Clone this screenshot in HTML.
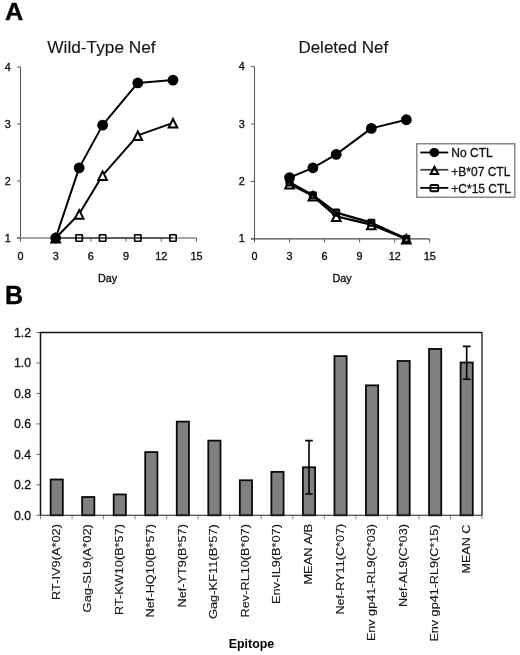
<!DOCTYPE html>
<html><head><meta charset="utf-8"><title>Figure</title>
<style>html,body{margin:0;padding:0;background:#fff}body{width:520px;height:655px;overflow:hidden;font-family:"Liberation Sans",sans-serif}</style>
</head><body>
<svg width="520" height="655" viewBox="0 0 520 655" style="display:block;filter:blur(0.35px)">
<rect width="520" height="655" fill="#fff"/>
<text transform="translate(4.9,19.5) scale(1.045,1)" font-size="24.2" font-weight="bold" fill="#000" stroke="#000" stroke-width="0.35" font-family="Liberation Sans, sans-serif">A</text>
<text x="5.0" y="303.8" font-size="25" font-weight="bold" fill="#000" stroke="#000" stroke-width="0.35" font-family="Liberation Sans, sans-serif">B</text>
<text x="47.3" y="52.6" font-size="17.25" fill="#151515" stroke="#151515" stroke-width="0.12" font-family="Liberation Sans, sans-serif">Wild-Type Nef</text>
<text x="298.4" y="52.5" font-size="17" fill="#151515" stroke="#151515" stroke-width="0.12" font-family="Liberation Sans, sans-serif">Deleted Nef</text>
<line x1="20.5" y1="67.0" x2="20.5" y2="238.0" stroke="#5a5a5a" stroke-width="1.1"/>
<line x1="17.0" y1="238.0" x2="196.45000000000002" y2="238.0" stroke="#8a8a8a" stroke-width="1.3"/>
<line x1="17.0" y1="238.0" x2="20.5" y2="238.0" stroke="#5a5a5a" stroke-width="1"/>
<text x="7.8" y="241.9" font-size="10.8" text-anchor="middle" fill="#111" stroke="#111" stroke-width="0.35" font-family="Liberation Sans, sans-serif">1</text>
<line x1="17.0" y1="181.0" x2="20.5" y2="181.0" stroke="#5a5a5a" stroke-width="1"/>
<text x="7.8" y="184.9" font-size="10.8" text-anchor="middle" fill="#111" stroke="#111" stroke-width="0.35" font-family="Liberation Sans, sans-serif">2</text>
<line x1="17.0" y1="124.0" x2="20.5" y2="124.0" stroke="#5a5a5a" stroke-width="1"/>
<text x="7.8" y="127.9" font-size="10.8" text-anchor="middle" fill="#111" stroke="#111" stroke-width="0.35" font-family="Liberation Sans, sans-serif">3</text>
<line x1="17.0" y1="67.0" x2="20.5" y2="67.0" stroke="#5a5a5a" stroke-width="1"/>
<text x="7.8" y="70.9" font-size="10.8" text-anchor="middle" fill="#111" stroke="#111" stroke-width="0.35" font-family="Liberation Sans, sans-serif">4</text>
<line x1="20.5" y1="238.0" x2="20.5" y2="241.5" stroke="#5a5a5a" stroke-width="1"/>
<text x="20.5" y="260.0" font-size="10.8" text-anchor="middle" fill="#111" stroke="#111" stroke-width="0.35" font-family="Liberation Sans, sans-serif">0</text>
<line x1="55.69" y1="238.0" x2="55.69" y2="241.5" stroke="#5a5a5a" stroke-width="1"/>
<text x="55.69" y="260.0" font-size="10.8" text-anchor="middle" fill="#111" stroke="#111" stroke-width="0.35" font-family="Liberation Sans, sans-serif">3</text>
<line x1="90.88" y1="238.0" x2="90.88" y2="241.5" stroke="#5a5a5a" stroke-width="1"/>
<text x="90.88" y="260.0" font-size="10.8" text-anchor="middle" fill="#111" stroke="#111" stroke-width="0.35" font-family="Liberation Sans, sans-serif">6</text>
<line x1="126.07000000000001" y1="238.0" x2="126.07000000000001" y2="241.5" stroke="#5a5a5a" stroke-width="1"/>
<text x="126.07000000000001" y="260.0" font-size="10.8" text-anchor="middle" fill="#111" stroke="#111" stroke-width="0.35" font-family="Liberation Sans, sans-serif">9</text>
<line x1="161.26" y1="238.0" x2="161.26" y2="241.5" stroke="#5a5a5a" stroke-width="1"/>
<text x="161.26" y="260.0" font-size="10.8" text-anchor="middle" fill="#111" stroke="#111" stroke-width="0.35" font-family="Liberation Sans, sans-serif">12</text>
<line x1="196.45000000000002" y1="238.0" x2="196.45000000000002" y2="241.5" stroke="#5a5a5a" stroke-width="1"/>
<text x="196.45000000000002" y="260.0" font-size="10.8" text-anchor="middle" fill="#111" stroke="#111" stroke-width="0.35" font-family="Liberation Sans, sans-serif">15</text>
<polyline points="55.69,238.00 79.15,238.00 102.61,238.00 137.80,238.00 172.99,238.00" fill="none" stroke="#444" stroke-width="1.5" stroke-linejoin="round"/>
<rect x="52.49" y="234.80" width="6.4" height="6.4" rx="0.5" fill="none" stroke="#000" stroke-width="1.6"/>
<rect x="75.95" y="234.80" width="6.4" height="6.4" rx="0.5" fill="none" stroke="#000" stroke-width="1.6"/>
<rect x="99.41" y="234.80" width="6.4" height="6.4" rx="0.5" fill="none" stroke="#000" stroke-width="1.6"/>
<rect x="134.60" y="234.80" width="6.4" height="6.4" rx="0.5" fill="none" stroke="#000" stroke-width="1.6"/>
<rect x="169.79" y="234.80" width="6.4" height="6.4" rx="0.5" fill="none" stroke="#000" stroke-width="1.6"/>
<polyline points="55.69,238.00 79.15,214.06 102.61,175.30 137.80,135.40 172.99,122.86" fill="none" stroke="#000" stroke-width="2" stroke-linejoin="round"/>
<path d="M55.69 234.10 L59.99 242.60 L51.39 242.60 Z" fill="#fff" stroke="#000" stroke-width="2" stroke-linejoin="miter"/>
<path d="M79.15 210.16 L83.45 218.66 L74.85 218.66 Z" fill="#fff" stroke="#000" stroke-width="2" stroke-linejoin="miter"/>
<path d="M102.61 171.40 L106.91 179.90 L98.31 179.90 Z" fill="#fff" stroke="#000" stroke-width="2" stroke-linejoin="miter"/>
<path d="M137.80 131.50 L142.10 140.00 L133.50 140.00 Z" fill="#fff" stroke="#000" stroke-width="2" stroke-linejoin="miter"/>
<path d="M172.99 118.96 L177.29 127.46 L168.69 127.46 Z" fill="#fff" stroke="#000" stroke-width="2" stroke-linejoin="miter"/>
<polyline points="55.69,238.00 79.15,167.89 102.61,125.14 137.80,82.96 172.99,80.11" fill="none" stroke="#000" stroke-width="2" stroke-linejoin="round"/>
<circle cx="55.69" cy="238.00" r="5.4" fill="#000"/>
<circle cx="79.15" cy="167.89" r="5.4" fill="#000"/>
<circle cx="102.61" cy="125.14" r="5.4" fill="#000"/>
<circle cx="137.80" cy="82.96" r="5.4" fill="#000"/>
<circle cx="172.99" cy="80.11" r="5.4" fill="#000"/>
<text x="107.5" y="281.5" font-size="10.8" text-anchor="middle" fill="#111" stroke="#111" stroke-width="0.35" font-family="Liberation Sans, sans-serif">Day</text>
<line x1="254.5" y1="66.61000000000001" x2="254.5" y2="238.9" stroke="#5a5a5a" stroke-width="1.1"/>
<line x1="251.0" y1="238.9" x2="429.7" y2="238.9" stroke="#4a4a4a" stroke-width="1.3"/>
<line x1="251.0" y1="238.9" x2="254.5" y2="238.9" stroke="#5a5a5a" stroke-width="1"/>
<text x="241.8" y="242.4" font-size="10.8" text-anchor="middle" fill="#111" stroke="#111" stroke-width="0.35" font-family="Liberation Sans, sans-serif">1</text>
<line x1="251.0" y1="181.47" x2="254.5" y2="181.47" stroke="#5a5a5a" stroke-width="1"/>
<text x="241.8" y="184.97" font-size="10.8" text-anchor="middle" fill="#111" stroke="#111" stroke-width="0.35" font-family="Liberation Sans, sans-serif">2</text>
<line x1="251.0" y1="124.04" x2="254.5" y2="124.04" stroke="#5a5a5a" stroke-width="1"/>
<text x="241.8" y="127.54" font-size="10.8" text-anchor="middle" fill="#111" stroke="#111" stroke-width="0.35" font-family="Liberation Sans, sans-serif">3</text>
<line x1="251.0" y1="66.61000000000001" x2="254.5" y2="66.61000000000001" stroke="#5a5a5a" stroke-width="1"/>
<text x="241.8" y="70.11000000000001" font-size="10.8" text-anchor="middle" fill="#111" stroke="#111" stroke-width="0.35" font-family="Liberation Sans, sans-serif">4</text>
<line x1="254.5" y1="238.9" x2="254.5" y2="242.4" stroke="#5a5a5a" stroke-width="1"/>
<text x="254.5" y="260.0" font-size="10.8" text-anchor="middle" fill="#111" stroke="#111" stroke-width="0.35" font-family="Liberation Sans, sans-serif">0</text>
<line x1="289.54" y1="238.9" x2="289.54" y2="242.4" stroke="#5a5a5a" stroke-width="1"/>
<text x="289.54" y="260.0" font-size="10.8" text-anchor="middle" fill="#111" stroke="#111" stroke-width="0.35" font-family="Liberation Sans, sans-serif">3</text>
<line x1="324.58" y1="238.9" x2="324.58" y2="242.4" stroke="#5a5a5a" stroke-width="1"/>
<text x="324.58" y="260.0" font-size="10.8" text-anchor="middle" fill="#111" stroke="#111" stroke-width="0.35" font-family="Liberation Sans, sans-serif">6</text>
<line x1="359.62" y1="238.9" x2="359.62" y2="242.4" stroke="#5a5a5a" stroke-width="1"/>
<text x="359.62" y="260.0" font-size="10.8" text-anchor="middle" fill="#111" stroke="#111" stroke-width="0.35" font-family="Liberation Sans, sans-serif">9</text>
<line x1="394.65999999999997" y1="238.9" x2="394.65999999999997" y2="242.4" stroke="#5a5a5a" stroke-width="1"/>
<text x="394.65999999999997" y="260.0" font-size="10.8" text-anchor="middle" fill="#111" stroke="#111" stroke-width="0.35" font-family="Liberation Sans, sans-serif">12</text>
<line x1="429.7" y1="238.9" x2="429.7" y2="242.4" stroke="#5a5a5a" stroke-width="1"/>
<text x="429.7" y="260.0" font-size="10.8" text-anchor="middle" fill="#111" stroke="#111" stroke-width="0.35" font-family="Liberation Sans, sans-serif">15</text>
<polyline points="289.54,183.88 312.90,195.83 336.26,216.39 371.30,224.66 406.34,238.90" fill="none" stroke="#000" stroke-width="2.3" stroke-linejoin="round"/>
<path d="M289.54 179.98 L293.84 188.48 L285.24 188.48 Z" fill="#fff" stroke="#000" stroke-width="2" stroke-linejoin="miter"/>
<path d="M312.90 191.93 L317.20 200.43 L308.60 200.43 Z" fill="#fff" stroke="#000" stroke-width="2" stroke-linejoin="miter"/>
<path d="M336.26 212.49 L340.56 220.99 L331.96 220.99 Z" fill="#fff" stroke="#000" stroke-width="2" stroke-linejoin="miter"/>
<path d="M371.30 220.76 L375.60 229.26 L367.00 229.26 Z" fill="#fff" stroke="#000" stroke-width="2" stroke-linejoin="miter"/>
<path d="M406.34 235.00 L410.64 243.50 L402.04 243.50 Z" fill="#fff" stroke="#000" stroke-width="2" stroke-linejoin="miter"/>
<polyline points="289.54,182.33 312.90,195.20 336.26,212.60 371.30,222.70 406.34,238.90" fill="none" stroke="#000" stroke-width="2.3" stroke-linejoin="round"/>
<rect x="286.54" y="179.33" width="6.0" height="6.0" rx="0.5" fill="rgba(0,0,0,0.4)" stroke="#000" stroke-width="2.1"/>
<rect x="309.90" y="192.20" width="6.0" height="6.0" rx="0.5" fill="rgba(0,0,0,0.4)" stroke="#000" stroke-width="2.1"/>
<rect x="333.26" y="209.60" width="6.0" height="6.0" rx="0.5" fill="rgba(0,0,0,0.4)" stroke="#000" stroke-width="2.1"/>
<rect x="368.30" y="219.70" width="6.0" height="6.0" rx="0.5" fill="rgba(0,0,0,0.4)" stroke="#000" stroke-width="2.1"/>
<rect x="403.34" y="235.90" width="6.0" height="6.0" rx="0.5" fill="rgba(0,0,0,0.4)" stroke="#000" stroke-width="2.1"/>
<polyline points="289.54,177.56 312.90,167.80 336.26,154.36 371.30,128.40 406.34,119.73" fill="none" stroke="#000" stroke-width="2" stroke-linejoin="round"/>
<circle cx="289.54" cy="177.56" r="5.4" fill="#000"/>
<circle cx="312.90" cy="167.80" r="5.4" fill="#000"/>
<circle cx="336.26" cy="154.36" r="5.4" fill="#000"/>
<circle cx="371.30" cy="128.40" r="5.4" fill="#000"/>
<circle cx="406.34" cy="119.73" r="5.4" fill="#000"/>
<text x="342" y="281.5" font-size="10.8" text-anchor="middle" fill="#111" stroke="#111" stroke-width="0.35" font-family="Liberation Sans, sans-serif">Day</text>
<rect x="416.8" y="143.8" width="98" height="53.4" fill="#fff" stroke="#777" stroke-width="1.3"/>
<line x1="420.3" y1="152.5" x2="448.3" y2="152.5" stroke="#000" stroke-width="1.8"/>
<ellipse cx="434.3" cy="152.5" rx="4.9" ry="4.6" fill="#000"/>
<text x="451.3" y="157.3" font-size="12" fill="#111" stroke="#111" stroke-width="0.3" font-family="Liberation Sans, sans-serif">No CTL</text>
<line x1="420.3" y1="169.8" x2="448.3" y2="169.8" stroke="#444" stroke-width="1.8"/>
<path d="M434.4 166.8 L438.2 174.10000000000002 L430.6 174.10000000000002 Z" fill="none" stroke="#000" stroke-width="2"/>
<text x="451.3" y="175.5" font-size="12" fill="#111" stroke="#111" stroke-width="0.3" font-family="Liberation Sans, sans-serif">+B*07 CTL</text>
<line x1="420.3" y1="187.9" x2="448.3" y2="187.9" stroke="#000" stroke-width="1.8"/>
<rect x="430.4" y="185.0" width="7.8" height="6.2" rx="1" fill="none" stroke="#000" stroke-width="1.9"/>
<text x="451.3" y="193.1" font-size="12" fill="#111" stroke="#111" stroke-width="0.3" font-family="Liberation Sans, sans-serif">+C*15 CTL</text>
<line x1="36.5" y1="515.30" x2="40.5" y2="515.30" stroke="#666" stroke-width="1"/>
<text x="31.1" y="519.70" font-size="12.3" text-anchor="end" fill="#111" stroke="#111" stroke-width="0.3" font-family="Liberation Sans, sans-serif">0.0</text>
<line x1="36.5" y1="484.83" x2="40.5" y2="484.83" stroke="#666" stroke-width="1"/>
<text x="31.1" y="489.23" font-size="12.3" text-anchor="end" fill="#111" stroke="#111" stroke-width="0.3" font-family="Liberation Sans, sans-serif">0.2</text>
<line x1="36.5" y1="454.37" x2="40.5" y2="454.37" stroke="#666" stroke-width="1"/>
<text x="31.1" y="458.77" font-size="12.3" text-anchor="end" fill="#111" stroke="#111" stroke-width="0.3" font-family="Liberation Sans, sans-serif">0.4</text>
<line x1="36.5" y1="423.90" x2="40.5" y2="423.90" stroke="#666" stroke-width="1"/>
<text x="31.1" y="428.30" font-size="12.3" text-anchor="end" fill="#111" stroke="#111" stroke-width="0.3" font-family="Liberation Sans, sans-serif">0.6</text>
<line x1="36.5" y1="393.43" x2="40.5" y2="393.43" stroke="#666" stroke-width="1"/>
<text x="31.1" y="397.83" font-size="12.3" text-anchor="end" fill="#111" stroke="#111" stroke-width="0.3" font-family="Liberation Sans, sans-serif">0.8</text>
<line x1="36.5" y1="362.97" x2="40.5" y2="362.97" stroke="#666" stroke-width="1"/>
<text x="31.1" y="367.37" font-size="12.3" text-anchor="end" fill="#111" stroke="#111" stroke-width="0.3" font-family="Liberation Sans, sans-serif">1.0</text>
<line x1="36.5" y1="332.50" x2="40.5" y2="332.50" stroke="#666" stroke-width="1"/>
<text x="31.1" y="336.90" font-size="12.3" text-anchor="end" fill="#111" stroke="#111" stroke-width="0.3" font-family="Liberation Sans, sans-serif">1.2</text>
<line x1="40.50" y1="515.3" x2="40.50" y2="519.3" stroke="#8a8a8a" stroke-width="1"/>
<rect x="50.62" y="479.50" width="12.2" height="35.80" fill="#808080" stroke="#0a0a0a" stroke-width="1.8"/>
<text transform="translate(59.62,524.10) rotate(-90)" x="0" y="0" text-anchor="end" font-size="11" textLength="75.8" lengthAdjust="spacingAndGlyphs" fill="#151515" stroke="#151515" stroke-width="0.12" font-family="Liberation Sans, sans-serif">RT-IV9(A*02)</text>
<line x1="72.04" y1="515.3" x2="72.04" y2="519.3" stroke="#8a8a8a" stroke-width="1"/>
<rect x="82.15" y="497.02" width="12.2" height="18.28" fill="#808080" stroke="#0a0a0a" stroke-width="1.8"/>
<text transform="translate(91.15,524.10) rotate(-90)" x="0" y="0" text-anchor="end" font-size="11" textLength="88.3" lengthAdjust="spacingAndGlyphs" fill="#151515" stroke="#151515" stroke-width="0.12" font-family="Liberation Sans, sans-serif">Gag-SL9(A*02)</text>
<line x1="103.57" y1="515.3" x2="103.57" y2="519.3" stroke="#8a8a8a" stroke-width="1"/>
<rect x="113.69" y="494.43" width="12.2" height="20.87" fill="#808080" stroke="#0a0a0a" stroke-width="1.8"/>
<text transform="translate(122.69,524.10) rotate(-90)" x="0" y="0" text-anchor="end" font-size="11" textLength="90.8" lengthAdjust="spacingAndGlyphs" fill="#151515" stroke="#151515" stroke-width="0.12" font-family="Liberation Sans, sans-serif">RT-KW10(B*57)</text>
<line x1="135.11" y1="515.3" x2="135.11" y2="519.3" stroke="#8a8a8a" stroke-width="1"/>
<rect x="145.22" y="452.08" width="12.2" height="63.22" fill="#808080" stroke="#0a0a0a" stroke-width="1.8"/>
<text transform="translate(154.22,524.10) rotate(-90)" x="0" y="0" text-anchor="end" font-size="11" textLength="93.3" lengthAdjust="spacingAndGlyphs" fill="#151515" stroke="#151515" stroke-width="0.12" font-family="Liberation Sans, sans-serif">Nef-HQ10(B*57)</text>
<line x1="166.64" y1="515.3" x2="166.64" y2="519.3" stroke="#8a8a8a" stroke-width="1"/>
<rect x="176.76" y="421.62" width="12.2" height="93.68" fill="#808080" stroke="#0a0a0a" stroke-width="1.8"/>
<text transform="translate(185.76,524.10) rotate(-90)" x="0" y="0" text-anchor="end" font-size="11" textLength="83.3" lengthAdjust="spacingAndGlyphs" fill="#151515" stroke="#151515" stroke-width="0.12" font-family="Liberation Sans, sans-serif">Nef-YT9(B*57)</text>
<line x1="198.18" y1="515.3" x2="198.18" y2="519.3" stroke="#8a8a8a" stroke-width="1"/>
<rect x="208.30" y="440.66" width="12.2" height="74.64" fill="#808080" stroke="#0a0a0a" stroke-width="1.8"/>
<text transform="translate(217.30,524.10) rotate(-90)" x="0" y="0" text-anchor="end" font-size="11" textLength="95.0" lengthAdjust="spacingAndGlyphs" fill="#151515" stroke="#151515" stroke-width="0.12" font-family="Liberation Sans, sans-serif">Gag-KF11(B*57)</text>
<line x1="229.71" y1="515.3" x2="229.71" y2="519.3" stroke="#8a8a8a" stroke-width="1"/>
<rect x="239.83" y="480.26" width="12.2" height="35.04" fill="#808080" stroke="#0a0a0a" stroke-width="1.8"/>
<text transform="translate(248.83,524.10) rotate(-90)" x="0" y="0" text-anchor="end" font-size="11" textLength="93.3" lengthAdjust="spacingAndGlyphs" fill="#151515" stroke="#151515" stroke-width="0.12" font-family="Liberation Sans, sans-serif">Rev-RL10(B*07)</text>
<line x1="261.25" y1="515.3" x2="261.25" y2="519.3" stroke="#8a8a8a" stroke-width="1"/>
<rect x="271.37" y="471.88" width="12.2" height="43.41" fill="#808080" stroke="#0a0a0a" stroke-width="1.8"/>
<text transform="translate(280.37,524.10) rotate(-90)" x="0" y="0" text-anchor="end" font-size="11" textLength="80.0" lengthAdjust="spacingAndGlyphs" fill="#151515" stroke="#151515" stroke-width="0.12" font-family="Liberation Sans, sans-serif">Env-IL9(B*07)</text>
<line x1="292.79" y1="515.3" x2="292.79" y2="519.3" stroke="#8a8a8a" stroke-width="1"/>
<rect x="302.90" y="467.31" width="12.2" height="47.99" fill="#808080" stroke="#0a0a0a" stroke-width="1.8"/>
<text transform="translate(311.90,523.80) rotate(-90)" x="0" y="0" text-anchor="end" font-size="11" textLength="60.8" lengthAdjust="spacingAndGlyphs" fill="#151515" stroke="#151515" stroke-width="0.12" font-family="Liberation Sans, sans-serif">MEAN A/B</text>
<line x1="324.32" y1="515.3" x2="324.32" y2="519.3" stroke="#8a8a8a" stroke-width="1"/>
<rect x="334.44" y="356.11" width="12.2" height="159.19" fill="#808080" stroke="#0a0a0a" stroke-width="1.8"/>
<text transform="translate(344.34,523.80) rotate(-90)" x="0" y="0" text-anchor="end" font-size="11" textLength="90.8" lengthAdjust="spacingAndGlyphs" fill="#151515" stroke="#151515" stroke-width="0.12" font-family="Liberation Sans, sans-serif">Nef-RY11(C*07)</text>
<line x1="355.86" y1="515.3" x2="355.86" y2="519.3" stroke="#8a8a8a" stroke-width="1"/>
<rect x="365.97" y="385.36" width="12.2" height="129.94" fill="#808080" stroke="#0a0a0a" stroke-width="1.8"/>
<text transform="translate(374.97,524.10) rotate(-90)" x="0" y="0" text-anchor="end" font-size="11" textLength="117.0" lengthAdjust="spacingAndGlyphs" fill="#151515" stroke="#151515" stroke-width="0.12" font-family="Liberation Sans, sans-serif">Env gp41-RL9(C*03)</text>
<line x1="387.39" y1="515.3" x2="387.39" y2="519.3" stroke="#8a8a8a" stroke-width="1"/>
<rect x="397.51" y="360.99" width="12.2" height="154.31" fill="#808080" stroke="#0a0a0a" stroke-width="1.8"/>
<text transform="translate(406.51,524.10) rotate(-90)" x="0" y="0" text-anchor="end" font-size="11" textLength="83.0" lengthAdjust="spacingAndGlyphs" fill="#151515" stroke="#151515" stroke-width="0.12" font-family="Liberation Sans, sans-serif">Nef-AL9(C*03)</text>
<line x1="418.93" y1="515.3" x2="418.93" y2="519.3" stroke="#8a8a8a" stroke-width="1"/>
<rect x="429.05" y="348.95" width="12.2" height="166.35" fill="#808080" stroke="#0a0a0a" stroke-width="1.8"/>
<text transform="translate(438.05,524.60) rotate(-90)" x="0" y="0" text-anchor="end" font-size="11" textLength="117.0" lengthAdjust="spacingAndGlyphs" fill="#151515" stroke="#151515" stroke-width="0.12" font-family="Liberation Sans, sans-serif">Env gp41-RL9(C*15)</text>
<line x1="450.46" y1="515.3" x2="450.46" y2="519.3" stroke="#8a8a8a" stroke-width="1"/>
<rect x="460.58" y="362.51" width="12.2" height="152.79" fill="#808080" stroke="#0a0a0a" stroke-width="1.8"/>
<text transform="translate(469.58,524.60) rotate(-90)" x="0" y="0" text-anchor="end" font-size="11" textLength="49.0" lengthAdjust="spacingAndGlyphs" fill="#151515" stroke="#151515" stroke-width="0.12" font-family="Liberation Sans, sans-serif">MEAN C</text>
<line x1="482.0" y1="515.3" x2="482.0" y2="519.3" stroke="#8a8a8a" stroke-width="1"/>
<line x1="39.9" y1="332.5" x2="482.0" y2="332.5" stroke="#111" stroke-width="1.5"/>
<line x1="482.0" y1="331.9" x2="482.0" y2="515.3" stroke="#1a1a1a" stroke-width="1.3"/>
<line x1="40.5" y1="332.5" x2="40.5" y2="515.3" stroke="#111" stroke-width="1.5"/>
<line x1="40.5" y1="515.3" x2="482.0" y2="515.3" stroke="#222" stroke-width="1.1"/>
<path d="M309.00 440.66 V493.97 M305.20 440.66 h7.6 M305.20 493.97 h7.6" stroke="#000" stroke-width="1.6" fill="none"/>
<path d="M466.68 346.36 V379.27 M462.88 346.36 h7.6 M462.88 379.27 h7.6" stroke="#000" stroke-width="1.6" fill="none"/>
<text x="251.5" y="647.8" font-size="12.4" font-weight="bold" text-anchor="middle" fill="#000" font-family="Liberation Sans, sans-serif">Epitope</text>
</svg>
</body></html>
